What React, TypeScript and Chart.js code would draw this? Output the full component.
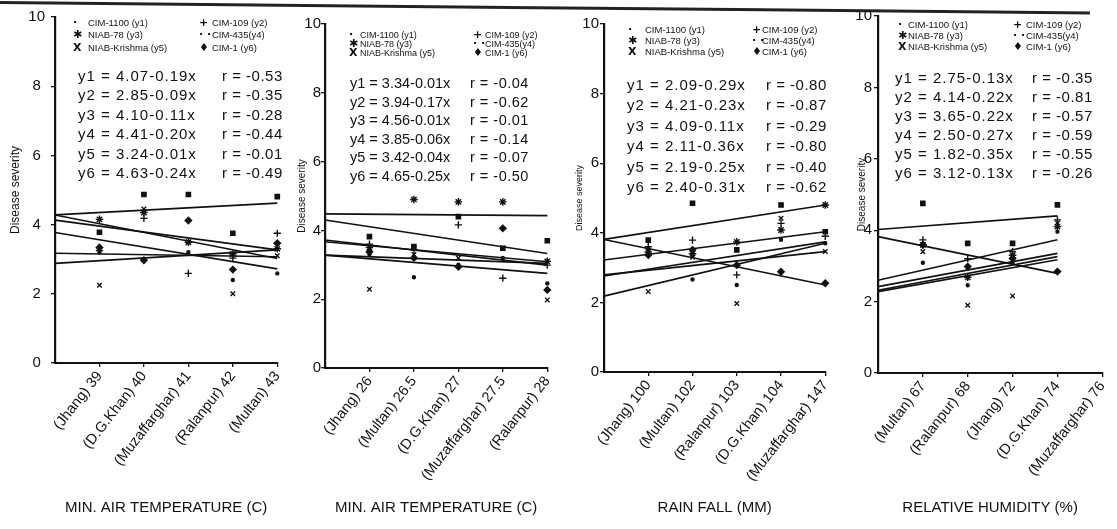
import React, { useEffect, useRef } from "react";
import { Chart, registerables } from "chart.js";

Chart.register(...registerables);

const FONT = "'Liberation Sans', Arial, Helvetica, sans-serif";
const INK = "#111111";
const PAGE_H = 529;

// ---------- shared legend ----------
const cultivarNames = ["CIM-1100 (y1)", "CIM-109 (y2)", "NIAB-78 (y3)", "CIM-435(y4)", "NIAB-Krishma (y5)", "CIM-1 (y6)"];
const cultivarSymbols = ["·", "+", "✱", "· ·", "X", "♦"];

// ---------- panel 1 : min. air temperature ----------
const p1Sites = ["Jhang", "D.G.Khan", "Muzaffarghar", "Ralanpur", "Multan"];
const p1Values = ["39", "40", "41", "42", "43"];
const p1Y1 = [3.78, 4.87, 4.87, 3.75, 4.81];
const p1Y2 = [3.25, 4.18, 2.59, 3.03, 3.75];
const p1Y3 = [4.15, 4.35, 3.49, 3.15, 3.3];
const p1Y4 = [3.2, 3.0, 3.2, 2.4, 2.59];
const p1Y5 = [2.25, 4.45, 3.5, 2.0, 3.1];
const p1Y6 = [3.34, 2.97, 4.12, 2.7, 3.46];
const p1LineStart = [4.28, 4.28, 4.13, 3.77, 3.17, 2.88];
const p1LineEnd = [4.62, 3.02, 3.27, 2.72, 3.07, 3.27];
const p1Equations = ["y1 = 4.07-0.19x", "y2 = 2.85-0.09x", "y3 = 4.10-0.11x", "y4 = 4.41-0.20x", "y5 = 3.24-0.01x", "y6 = 4.63-0.24x"];
const p1R = ["r = -0.53", "r = -0.35", "r = -0.28", "r = -0.44", "r = -0.01", "r = -0.49"];

// ---------- panel 2 : min. air temperature ----------
const p2Sites = ["Jhang", "Multan", "D.G.Khan", "Muzaffarghar", "Ralanpur"];
const p2Values = ["26", "26.5", "27", "27.5", "28"];
const p2Y1 = [3.82, 3.53, 4.4, 3.48, 3.7];
const p2Y2 = [3.6, 3.43, 4.16, 2.61, 2.99];
const p2Y3 = [3.5, 4.9, 4.83, 4.83, 3.1];
const p2Y4 = [3.3, 2.64, 3.0, 3.2, 2.46];
const p2Y5 = [2.29, 3.3, 3.2, 3.48, 1.98];
const p2Y6 = [3.38, 3.2, 2.94, 4.06, 2.27];
const p2LineStart = [4.48, 4.3, 3.72, 3.67, 3.28, 3.28];
const p2LineEnd = [4.43, 3.33, 2.99, 3.09, 3.04, 2.75];
const p2Equations = ["y1 = 3.34-0.01x", "y2 = 3.94-0.17x", "y3 = 4.56-0.01x", "y4 = 3.85-0.06x", "y5 = 3.42-0.04x", "y6 = 4.65-0.25x"];
const p2R = ["r = -0.04", "r = -0.62", "r = -0.01", "r = -0.14", "r = -0.07", "r = -0.50"];

// ---------- panel 3 : rain fall ----------
const p3Sites = ["Jhang", "Multan", "Ralanpur", "D.G.Khan", "Muzaffarghar"];
const p3Values = ["100", "102", "103", "104", "147"];
const p3Y1 = [3.79, 4.85, 3.51, 4.8, 4.03];
const p3Y2 = [3.6, 3.79, 2.79, 4.27, 3.9];
const p3Y3 = [3.45, 3.4, 3.74, 4.08, 4.8];
const p3Y4 = [3.55, 2.66, 2.5, 3.8, 3.7];
const p3Y5 = [2.31, 3.3, 1.97, 4.42, 3.46];
const p3Y6 = [3.36, 3.51, 3.07, 2.88, 2.55];
const p3LineStart = [3.81, 3.81, 3.22, 2.76, 2.79, 2.18];
const p3LineEnd = [4.8, 2.5, 4.03, 3.74, 3.46, 3.7];
const p3Equations = ["y1 = 2.09-0.29x", "y2 = 4.21-0.23x", "y3 = 4.09-0.11x", "y4 = 2.11-0.36x", "y5 = 2.19-0.25x", "y6 = 2.40-0.31x"];
const p3R = ["r = -0.80", "r = -0.87", "r = -0.29", "r = -0.80", "r = -0.40", "r = -0.62"];

// ---------- panel 4 : relative humidity ----------
const p4Sites = ["Multan", "Ralanpur", "Jhang", "D.G.Khan", "Muzaffarghar"];
const p4Values = ["67", "68", "72", "74", "76"];
const p4Y1 = [4.75, 3.63, 3.63, 4.71];
const p4Y2 = [3.73, 3.2, 3.4, 4.29];
const p4Y3 = [3.59, 2.68, 3.3, 4.1];
const p4Y4 = [3.09, 2.46, 3.1, 3.96];
const p4Y5 = [3.4, 1.9, 2.16, 4.2];
const p4Y6 = [3.59, 2.98, 3.21, 2.84];
const p4LineStart = [4.02, 3.82, 2.6, 2.42, 2.32, 2.28];
const p4LineEnd = [4.4, 2.79, 3.73, 3.35, 3.26, 3.17];
const p4Equations = ["y1 = 2.75-0.13x", "y2 = 4.14-0.22x", "y3 = 3.65-0.22x", "y4 = 2.50-0.27x", "y5 = 1.82-0.35x", "y6 = 3.12-0.13x"];
const p4R = ["r = -0.35", "r = -0.81", "r = -0.57", "r = -0.59", "r = -0.55", "r = -0.26"];

// ---------- styles (not data) ----------
const markerStyles = [
  { pointStyle: "rect", radius: 3 },
  { pointStyle: "cross", radius: 3.6 },
  { pointStyle: "star", radius: 3.8 },
  { pointStyle: "circle", radius: 1.5 },
  { pointStyle: "crossRot", radius: 3.2 },
  { pointStyle: "rectRot", radius: 3.2 },
];

type Geom = {
  left: number; width: number; axisX: number; endX: number; top: number; bottom: number;
  tickPad: number; crossAlign: "near" | "center" | "far"; yTitleSize: number; yTitlePad: number;
  eqX: number; rX: number; eqFirst: number; eqStep: number; eqSize: number; eqSpacing: number;
  legRows: number[]; lmX: number; ltX: number; rmX: number; rtX: number; legSize: number;
};

type PanelDef = {
  g: Geom; sites: string[]; values: string[]; series: number[][];
  lineStart: number[]; lineEnd: number[]; lineEndX: number; xTitle: string;
  equations: string[]; rs: string[];
};

const panels: PanelDef[] = [
  {
    g: { left: 0, width: 292, axisX: 55, endX: 285, top: 17, bottom: 363, tickPad: 6, crossAlign: "center", yTitleSize: 12, yTitlePad: 8,
      eqX: 78, rX: 222, eqFirst: 76, eqStep: 19.4, eqSize: 15, eqSpacing: 1,
      legRows: [23, 35, 48], lmX: 73, ltX: 88, rmX: 199, rtX: 212, legSize: 9.5 },
    sites: p1Sites, values: p1Values, series: [p1Y1, p1Y2, p1Y3, p1Y4, p1Y5, p1Y6],
    lineStart: p1LineStart, lineEnd: p1LineEnd, lineEndX: 5, xTitle: "MIN. AIR TEMPERATURE (C)",
    equations: p1Equations, rs: p1R,
  },
  {
    g: { left: 292, width: 270, axisX: 325, endX: 555, top: 24, bottom: 368, tickPad: 0, crossAlign: "near", yTitleSize: 10, yTitlePad: 4,
      eqX: 350, rX: 470, eqFirst: 83, eqStep: 18.6, eqSize: 14.5, eqSpacing: 0,
      legRows: [35, 44, 53], lmX: 349, ltX: 360, rmX: 473, rtX: 485, legSize: 9 },
    sites: p2Sites, values: p2Values, series: [p2Y1, p2Y2, p2Y3, p2Y4, p2Y5, p2Y6],
    lineStart: p2LineStart, lineEnd: p2LineEnd, lineEndX: 5, xTitle: "MIN. AIR TEMPERATURE (C)",
    equations: p2Equations, rs: p2R,
  },
  {
    g: { left: 568, width: 272, axisX: 604, endX: 833, top: 24, bottom: 372, tickPad: 1, crossAlign: "near", yTitleSize: 9, yTitlePad: 6,
      eqX: 627, rX: 766, eqFirst: 85, eqStep: 20.4, eqSize: 15, eqSpacing: 1,
      legRows: [30, 41, 52], lmX: 628, ltX: 645, rmX: 752, rtX: 762, legSize: 9.5 },
    sites: p3Sites, values: p3Values, series: [p3Y1, p3Y2, p3Y3, p3Y4, p3Y5, p3Y6],
    lineStart: p3LineStart, lineEnd: p3LineEnd, lineEndX: 5, xTitle: "RAIN FALL (MM)",
    equations: p3Equations, rs: p3R,
  },
  {
    g: { left: 848, width: 269, axisX: 878, endX: 1107, top: 16, bottom: 373, tickPad: 2, crossAlign: "near", yTitleSize: 10, yTitlePad: 8,
      eqX: 895, rX: 1032, eqFirst: 78, eqStep: 19, eqSize: 15, eqSpacing: 1,
      legRows: [25, 36, 47], lmX: 898, ltX: 908, rmX: 1013, rtX: 1026, legSize: 9.5 },
    sites: p4Sites, values: p4Values, series: [p4Y1, p4Y2, p4Y3, p4Y4, p4Y5, p4Y6],
    lineStart: p4LineStart, lineEnd: p4LineEnd, lineEndX: 4, xTitle: "RELATIVE HUMIDITY (%)",
    equations: p4Equations, rs: p4R,
  },
];

function PanelChart({ p }: { p: PanelDef }) {
  const ref = useRef<HTMLCanvasElement>(null);
  useEffect(() => {
    const g = p.g;
    const datasets: any[] = [];
    p.series.forEach((vals, i) => {
      const m = markerStyles[i];
      datasets.push({
        type: "scatter",
        data: vals.map((v, k) => ({ x: k + 1, y: v })),
        pointStyle: m.pointStyle,
        pointRadius: m.radius,
        borderColor: INK,
        backgroundColor: INK,
        borderWidth: 1.4,
        showLine: false,
        clip: false,
      });
    });
    p.lineStart.forEach((s, i) => {
      datasets.push({
        type: "line",
        data: [{ x: 0, y: s }, { x: p.lineEndX, y: p.lineEnd[i] }],
        borderColor: INK,
        borderWidth: 1.6,
        pointRadius: 0,
        fill: false,
        tension: 0,
        clip: false,
      });
    });
    const chart = new Chart(ref.current as HTMLCanvasElement, {
      type: "scatter",
      data: { datasets },
      options: {
        animation: false,
        responsive: false,
        maintainAspectRatio: false,
        events: [],
        layout: { autoPadding: false, padding: { left: 0, right: g.left + g.width - g.endX, top: g.top, bottom: 0 } },
        plugins: { legend: { display: false }, tooltip: { enabled: false }, title: { display: false } },
        scales: {
          x: {
            type: "linear",
            min: 0,
            max: 5,
            afterFit: (s: any) => { s.height = PAGE_H - g.bottom; },
            afterBuildTicks: (s: any) => { s.ticks = [1, 2, 3, 4, 5].map((v) => ({ value: v })); },
            ticks: {
              autoSkip: false,
              minRotation: 52,
              maxRotation: 52,
              padding: 1,
              color: INK,
              font: { family: FONT, size: 14.5 },
              callback: (v: any) => `(${p.sites[Number(v) - 1]}) ${p.values[Number(v) - 1]}`,
            },
            grid: { drawOnChartArea: false, tickLength: 4, color: INK, lineWidth: 1.3 },
            border: { display: true, color: INK, width: 2 },
            title: { display: true, text: p.xTitle, color: INK, font: { family: FONT, size: 15 }, padding: { top: 0, bottom: 12 } },
          },
          y: {
            type: "linear",
            min: 0,
            max: 10,
            afterFit: (s: any) => { s.width = g.axisX - g.left; },
            ticks: { stepSize: 2, padding: g.tickPad, crossAlign: g.crossAlign, color: INK, font: { family: FONT, size: 15 } },
            grid: { drawOnChartArea: false, tickLength: 4, color: INK, lineWidth: 1.3 },
            border: { display: true, color: INK, width: 2.2 },
            title: { display: true, text: "Disease severity", color: INK, font: { family: FONT, size: g.yTitleSize }, padding: { top: g.yTitlePad, bottom: 0 } },
          },
        },
      } as any,
    });
    return () => chart.destroy();
  }, [p]);
  return (
    <canvas
      ref={ref}
      width={p.g.width}
      height={PAGE_H}
      style={{ position: "absolute", left: p.g.left, top: 0, width: p.g.width, height: PAGE_H }}
    />
  );
}

function PanelText({ p }: { p: PanelDef }) {
  const g = p.g;
  const eqStyle: React.CSSProperties = {
    position: "absolute", fontFamily: FONT, fontSize: g.eqSize, lineHeight: "18px", letterSpacing: g.eqSpacing + "px",
    color: INK, whiteSpace: "nowrap",
  };
  const legStyle: React.CSSProperties = {
    position: "absolute", fontFamily: FONT, fontSize: g.legSize, lineHeight: "12px", color: INK, whiteSpace: "nowrap",
  };
  const symStyle: React.CSSProperties = {
    position: "absolute", fontFamily: "'DejaVu Sans', sans-serif", fontSize: 11, lineHeight: "12px",
    fontWeight: "bold", color: INK, whiteSpace: "nowrap",
  };
  const items: React.ReactNode[] = [];
  cultivarNames.forEach((name, i) => {
    const row = Math.floor(i / 2);
    const right = i % 2 === 1;
    const cy = g.legRows[row];
    items.push(<div key={"s" + i} style={{ ...symStyle, left: right ? g.rmX : g.lmX, top: cy - 6 }}>{cultivarSymbols[i]}</div>);
    items.push(<div key={"n" + i} style={{ ...legStyle, left: right ? g.rtX : g.ltX, top: cy - 6 }}>{name}</div>);
  });
  p.equations.forEach((eq, i) => {
    const cy = g.eqFirst + i * g.eqStep;
    items.push(<div key={"e" + i} style={{ ...eqStyle, left: g.eqX, top: cy - 9 }}>{eq}</div>);
    items.push(<div key={"r" + i} style={{ ...eqStyle, left: g.rX, top: cy - 9, letterSpacing: "0.5px" }}>{p.rs[i]}</div>);
  });
  return <>{items}</>;
}

export default function App() {
  return (
    <div style={{ position: "absolute", left: 0, top: 0, width: 1117, height: PAGE_H, background: "#ffffff", overflow: "hidden" }}>
      <div style={{ position: "absolute", left: 0, top: 1, width: 1090, height: 3, background: "#222", transform: "rotate(0.55deg)", transformOrigin: "0 0" }} />
      {panels.map((p, i) => <PanelChart key={"c" + i} p={p} />)}
      {panels.map((p, i) => <PanelText key={"t" + i} p={p} />)}
    </div>
  );
}
